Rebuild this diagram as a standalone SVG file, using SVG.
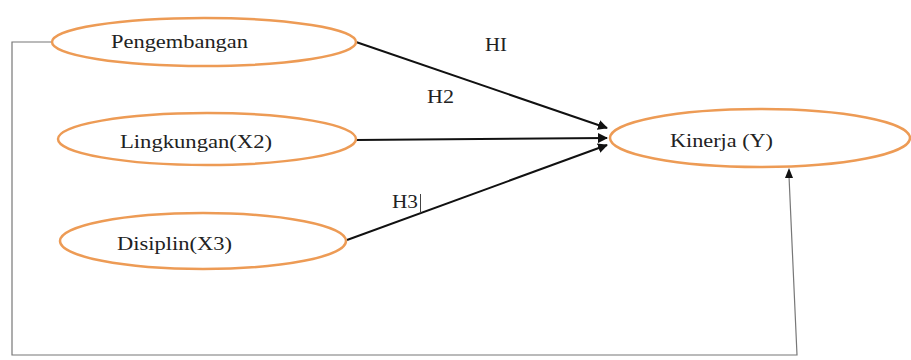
<svg xmlns="http://www.w3.org/2000/svg" width="911" height="360" viewBox="0 0 911 360">
<style>
.node ellipse{fill:#fff;stroke:#ED9B55;stroke-width:2.5}
.lbl{font-family:"Liberation Serif",serif;font-size:19px;fill:#222}
.c{stroke:#111;stroke-width:2;fill:none}
.g{stroke:#777;stroke-width:1.2;fill:none}
</style>
<defs>
<marker id="ah" viewBox="0 0 10 10" refX="9" refY="5" markerWidth="5" markerHeight="5" orient="auto" markerUnits="strokeWidth"><path d="M0,0L10,5L0,10z" fill="#111"/></marker>
</defs>
<rect width="911" height="360" fill="#fff"/>
<g id="connectors">
<path class="g" d="M52,42 H12 V355 H797 L789,176"/>
<path d="M789,168 L785,178 L793,178 z" fill="#111"/>
<line class="c" x1="356" y1="42" x2="607" y2="128" marker-end="url(#ah)"/>
<line class="c" x1="356" y1="140" x2="607" y2="138" marker-end="url(#ah)"/>
<line class="c" x1="347" y1="240" x2="607" y2="145" marker-end="url(#ah)"/>
<text class="lbl" x="485" y="51" textLength="22" lengthAdjust="spacingAndGlyphs">HI</text>
<text class="lbl" x="427" y="103" textLength="27" lengthAdjust="spacingAndGlyphs">H2</text>
<text class="lbl" x="392" y="208" textLength="26" lengthAdjust="spacingAndGlyphs">H3</text>
<line x1="420.5" y1="194" x2="420.5" y2="213" stroke="#444" stroke-width="1"/>
</g>
<g id="n1" class="node"><ellipse cx="204" cy="42" rx="152" ry="24"/><text class="lbl" x="111" y="48" textLength="137" lengthAdjust="spacingAndGlyphs">Pengembangan</text></g>
<g id="n2" class="node"><ellipse cx="207" cy="139" rx="149" ry="26"/><text class="lbl" x="120" y="148" textLength="152" lengthAdjust="spacingAndGlyphs">Lingkungan(X2)</text></g>
<g id="n3" class="node"><ellipse cx="203" cy="241" rx="143" ry="28"/><text class="lbl" x="117" y="250" textLength="115" lengthAdjust="spacingAndGlyphs">Disiplin(X3)</text></g>
<g id="n4" class="node"><ellipse cx="760" cy="138" rx="150" ry="29"/><text class="lbl" x="670" y="147" textLength="103" lengthAdjust="spacingAndGlyphs">Kinerja (Y)</text></g>
</svg>
